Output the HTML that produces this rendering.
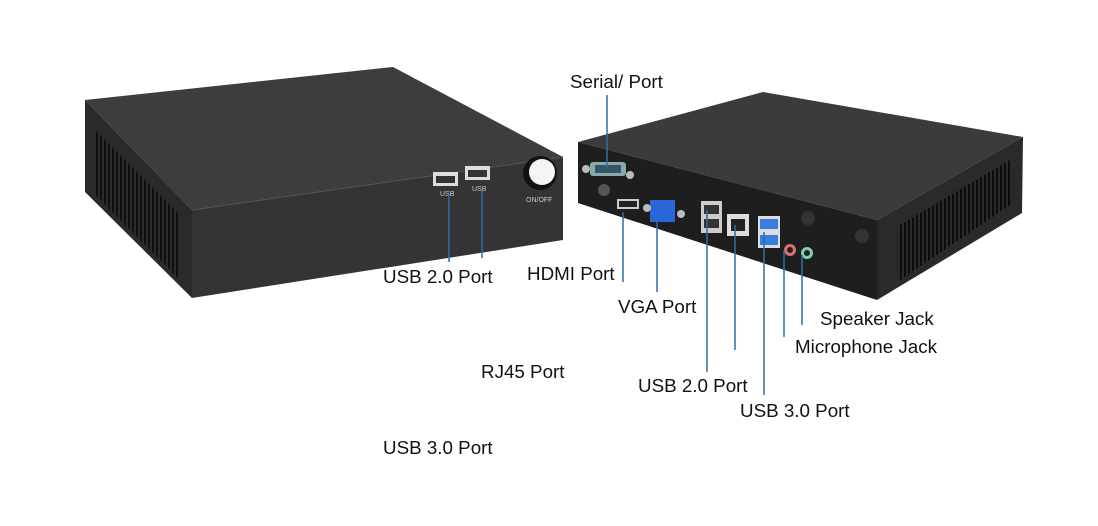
<!DOCTYPE html>
<html><head><meta charset="utf-8"><style>
html,body{margin:0;padding:0;background:#fff;width:1098px;height:526px;overflow:hidden}
svg text{font-family:"Liberation Sans",sans-serif;font-size:18.8px;fill:#111}
</style></head><body>
<svg width="1098" height="526" viewBox="0 0 1098 526" xmlns="http://www.w3.org/2000/svg">
<defs>
<pattern id="vent" width="4" height="10" patternUnits="userSpaceOnUse"><rect width="4" height="10" fill="#2b2b2b"/><rect x="0" width="2" height="10" fill="#0c0c0c"/></pattern>
</defs>
<polygon points="85,100 393,67 563,157 192,210" fill="#3d3d3d"/>
<polygon points="85,100 192,210 192,298 85,192" fill="#2a2a2a"/>
<polygon points="95,130 180,215 180,280 95,195" fill="url(#vent)" opacity="0.9"/>
<polygon points="192,210 563,157 563,240 192,298" fill="#343434"/>
<line x1="192" y1="210" x2="563" y2="157" stroke="#555" stroke-width="1"/>
<rect x="433" y="172" width="25" height="14" fill="#ddd"/><rect x="436" y="176" width="19" height="7" fill="#333"/>
<rect x="465" y="166" width="25" height="14" fill="#ddd"/><rect x="468" y="170" width="19" height="7" fill="#333"/>
<text x="440" y="196" style="font-size:7px;fill:#ccc">USB</text>
<text x="472" y="191" style="font-size:7px;fill:#ccc">USB</text>
<circle cx="540" cy="173" r="17" fill="#111"/><circle cx="542" cy="172" r="13" fill="#f4f4f4"/>
<text x="526" y="202" style="font-size:7px;fill:#ccc">ON/OFF</text>
<polygon points="578,142 763,92 1023,137 877,220" fill="#3b3b3b"/>
<polygon points="877,220 1023,137 1022,213 877,300" fill="#2a2a2a"/>
<polygon points="900,225 1010,160 1010,205 900,280" fill="url(#vent)"/>
<polygon points="578,142 877,220 877,300 578,203" fill="#1e1e1e"/>
<rect x="590" y="162" width="36" height="14" rx="3" fill="#8aa"/><rect x="595" y="165" width="26" height="8" fill="#356"/>
<circle cx="586" cy="169" r="4" fill="#bbb"/><circle cx="630" cy="175" r="4" fill="#bbb"/>
<circle cx="604" cy="190" r="6" fill="#555"/>
<rect x="617" y="199" width="22" height="10" fill="#ccc"/><rect x="619" y="201" width="18" height="6" fill="#222"/>
<rect x="650" y="200" width="25" height="22" fill="#2a66d8"/>
<circle cx="647" cy="208" r="4" fill="#bbb"/><circle cx="681" cy="214" r="4" fill="#bbb"/>
<rect x="701" y="201" width="21" height="32" fill="#ccc"/><rect x="704" y="205" width="15" height="9" fill="#333"/><rect x="704" y="219" width="15" height="9" fill="#333"/>
<rect x="727" y="214" width="22" height="22" fill="#ddd"/><rect x="731" y="219" width="14" height="12" fill="#222"/>
<rect x="758" y="216" width="22" height="32" fill="#ddd"/><rect x="760" y="219" width="18" height="10" fill="#3a7de0"/><rect x="760" y="235" width="18" height="10" fill="#3a7de0"/>
<circle cx="790" cy="250" r="6" fill="#e07070"/><circle cx="790" cy="250" r="3" fill="#222"/>
<circle cx="807" cy="253" r="6" fill="#7fd0b0"/><circle cx="807" cy="253" r="3" fill="#222"/>
<circle cx="808" cy="218" r="7" fill="#333"/><circle cx="862" cy="236" r="7" fill="#333"/>
<g stroke="#2e6da4" stroke-width="1.5">
<line x1="449" y1="195" x2="449" y2="262"/><line x1="482" y1="190" x2="482" y2="258"/>
<line x1="607" y1="95" x2="607" y2="168"/><line x1="623" y1="212" x2="623" y2="282"/>
<line x1="657" y1="222" x2="657" y2="292"/><line x1="707" y1="210" x2="707" y2="372"/>
<line x1="735" y1="225" x2="735" y2="350"/><line x1="764" y1="232" x2="764" y2="395"/>
<line x1="784" y1="250" x2="784" y2="337"/><line x1="802" y1="255" x2="802" y2="325"/>
</g>
<text x="570" y="88">Serial/ Port</text>
<text x="383" y="283">USB 2.0 Port</text>
<text x="527" y="280">HDMI Port</text>
<text x="618" y="313">VGA Port</text>
<text x="820" y="325">Speaker Jack</text>
<text x="795" y="353">Microphone Jack</text>
<text x="481" y="378">RJ45 Port</text>
<text x="638" y="392">USB 2.0 Port</text>
<text x="740" y="417">USB 3.0 Port</text>
<text x="383" y="454">USB 3.0 Port</text>
</svg>
</body></html>
